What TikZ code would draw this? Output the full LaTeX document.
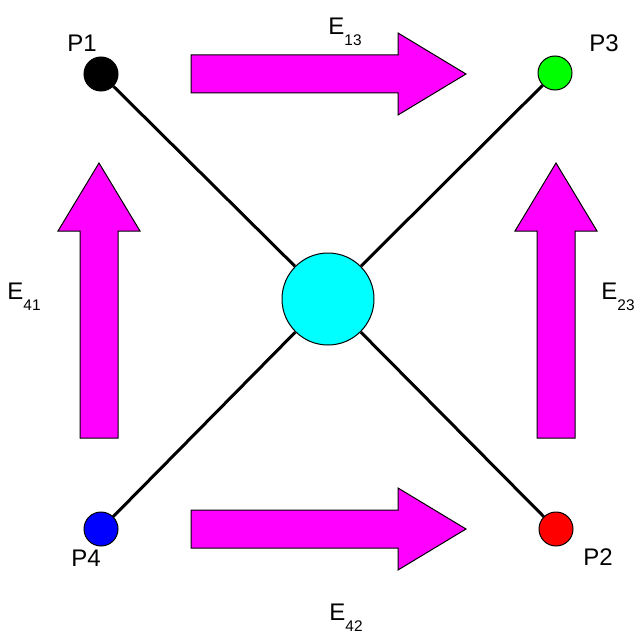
\documentclass[tikz,border=0pt]{standalone}
\usepackage{fontspec}
\setmainfont{Liberation Sans}
\usepackage{tikz}
\usetikzlibrary{positioning}

\definecolor{arrowpink}{RGB}{255,0,255}
\definecolor{hubcyan}{RGB}{0,255,255}
\definecolor{stgreen}{RGB}{0,255,0}
\definecolor{stblue}{RGB}{0,0,255}
\definecolor{stred}{RGB}{255,0,0}

\newcommand{\elabel}[1]{E\raisebox{-5.5pt}{\fontsize{7.7}{9}\selectfont #1}}

\begin{document}
\begin{tikzpicture}[x=0.5pt, y=0.5pt,
		every node/.style={font=\fontsize{12}{14}\selectfont},
		station/.style={draw, circle, line width=0.5pt, minimum size=17pt, inner sep=0pt},
		hubnode/.style={draw, circle, fill=hubcyan, line width=0.5pt, minimum size=46pt, inner sep=0pt},
		wire/.style={line width=1.5pt},
		bigarrow/.style={draw, fill=arrowpink, line width=0.5pt}]
		\useasboundingbox (0,0) rectangle (635,633);

		% stations and centre
		\node[hubnode] (hub) at (328,334) {};
		\node[station, fill=black] (p1) at (101,559) {};
		\node[station, fill=stgreen] (p3) at (555,560) {};
		\node[station, fill=stblue] (p4) at (101,104) {};
		\node[station, fill=stred] (p2) at (556,104) {};

		\draw[wire] (p1) -- (hub);
		\draw[wire] (p3) -- (hub);
		\draw[wire] (p4) -- (hub);
		\draw[wire] (p2) -- (hub);

		% block arrows
		\foreach \x/\y/\r in {191/559/0, 191/104/0, 99/195/90, 556/195/90}
			\draw[bigarrow, shift={(\x,\y)}, rotate=\r] (0,-19) -- (207,-19) -- (207,-41) -- (275,0) -- (207,41) -- (207,19) -- (0,19) -- cycle;

		% labels
		\node[anchor=base] (lp1) at (82,581) {P1};
		\node[anchor=base] (lp3) at (604,581) {P3};
		\node[anchor=base] (lp4) at (86,67) {P4};
		\node[anchor=base] (lp2) at (598,68) {P2};

		\node[anchor=base] (e13) at (345,598) {\elabel{13}};
		\node[anchor=base] (e41) at (24,334) {\elabel{41}};
		\node[anchor=base] (e23) at (618,334) {\elabel{23}};
		\node[anchor=base] (e42) at (346,13) {\elabel{42}};
	\end{tikzpicture}
\end{document}
